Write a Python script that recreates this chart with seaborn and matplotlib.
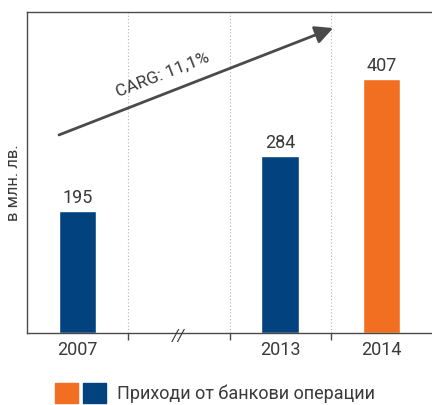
import matplotlib
matplotlib.use("Agg")
import matplotlib.pyplot as plt
import seaborn as sns
import pandas as pd
from matplotlib.patches import Patch
from matplotlib.legend_handler import HandlerTuple

# Data
years = ["2007", "//", "2013", "2014"]
revenue = [195, None, 284, 407]
bar_colors = {"2007": "#02427F", "2013": "#02427F", "2014": "#F26F21"}
legend_label = "Приходи от банкови операции"
y_label = "в млн. лв."
cagr_label = "CARG: 11,1%"

text_color = "#3a3a3a"
spine_color = "#4a4a4a"

sns.set_theme(style="white")
plt.rcParams["font.family"] = ["Roboto", "DejaVu Sans"]

df = pd.DataFrame({"year": years, "revenue": revenue}).dropna()

fig = plt.figure(figsize=(4.32, 4.05), dpi=100)
ax = fig.add_axes([27 / 432, 72 / 405, 1 - 27 / 432, 321 / 405])

sns.barplot(data=df, x="year", y="revenue", hue="year", order=years,
            palette=bar_colors, width=0.37, legend=False, ax=ax, saturation=1)

for container in ax.containers:
    ax.bar_label(container, fmt="%d", padding=3, fontsize=13, color=text_color)

ax.set_xlim(-0.5, 3.5)
ax.set_ylim(0, 515)
ax.set_yticks([])

# Category boundaries as major ticks + dotted separators, labels on minor ticks
ax.set_xticks([0.5, 1.5, 2.5])
ax.set_xticklabels([])
ax.set_xticks(range(len(years)), minor=True)
ax.set_xticklabels([y if y != "//" else "" for y in years], minor=True)
ax.tick_params(axis="x", which="major", length=5, width=1, color=spine_color,
               direction="out", bottom=True)
ax.tick_params(axis="x", which="minor", length=0, pad=6, labelsize=13,
               labelcolor=text_color, bottom=True)
ax.xaxis.grid(True, which="major", color="#b5b5b5", linestyle=(0, (1, 2)), linewidth=0.8)
ax.set_xlabel("")

# Axis break mark
ax.text(1.0, -0.012, "//", transform=ax.get_xaxis_transform(), ha="center", va="center",
        fontsize=12, color=text_color, style="italic")

for side in ["left", "bottom", "top"]:
    ax.spines[side].set_color(spine_color)
    ax.spines[side].set_linewidth(1.0)
ax.spines["right"].set_visible(False)

ax.set_ylabel(y_label, fontsize=12, color=text_color)
ax.yaxis.set_label_coords(-0.015, 0.47)

# CAGR arrow
ax.annotate("", xy=(0.756, 0.95), xytext=(0.079, 0.617), xycoords="axes fraction",
            arrowprops=dict(arrowstyle="-|>,head_length=0.9,head_width=0.45",
                            color="#4a4a4a", lw=2.0, shrinkA=0, shrinkB=0))
ax.text(0.336, 0.805, cagr_label, transform=ax.transAxes, rotation=21.3,
        rotation_mode="anchor", ha="center", va="center", fontsize=12.5, color=text_color)

# Legend: two colour squares followed by the label
handles = [(Patch(color=bar_colors["2014"]), Patch(color=bar_colors["2007"]))]
fig.legend(handles, [legend_label], handler_map={tuple: HandlerTuple(ndivide=None, pad=0.29)},
           loc="center left", bbox_to_anchor=(55 / 432, 1 - 393 / 405), frameon=False,
           borderpad=0, borderaxespad=0, handlelength=2.8, handleheight=1.32,
           handletextpad=0.63, fontsize=13, labelcolor=text_color)

fig.savefig("out.png", dpi=100)
